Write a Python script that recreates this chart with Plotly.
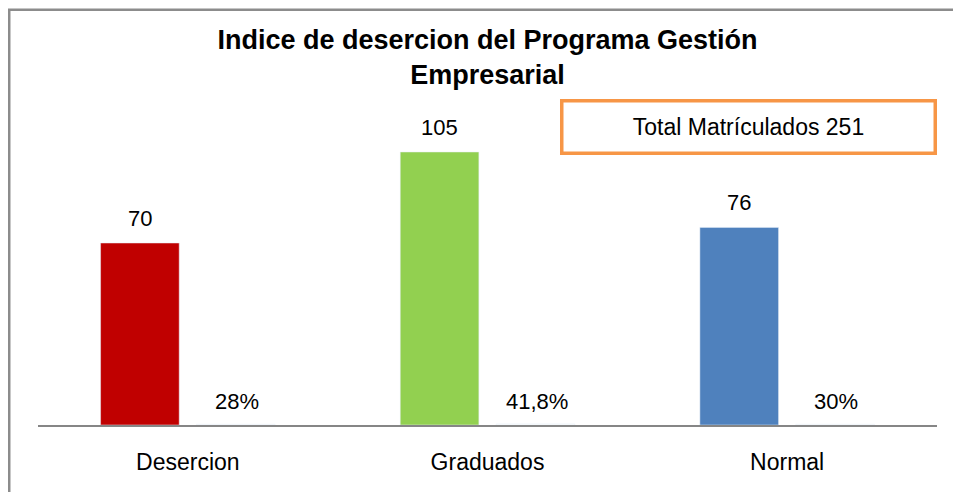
import plotly.graph_objects as go

categorias = ["Desercion", "Graduados", "Normal"]
cantidades = [70, 105, 76]
porcentajes = [28, 41.8, 30]
colores = ["#C00000", "#92D050", "#4F81BD"]
total = 251

pct_texto = [("%g" % p).replace(".", ",") + "%" for p in porcentajes]

fig = go.Figure()
fig.add_trace(go.Bar(
    x=categorias,
    y=cantidades,
    marker_color=colores,
    name="Cantidad",
    hovertemplate="%{x}: %{y}<extra></extra>",
))
# serie de porcentajes (altura casi nula, como en Excel)
fig.add_trace(go.Bar(
    x=categorias,
    y=[p / 100 for p in porcentajes],
    marker_color="rgba(0,0,0,0)",
    name="Porcentaje",
    customdata=pct_texto,
    hovertemplate="%{x}: %{customdata}<extra></extra>",
))

# etiquetas de datos
for cat, val, pt, p in zip(categorias, cantidades, pct_texto, porcentajes):
    fig.add_annotation(x=cat, y=val, text=str(val), showarrow=False,
                       xshift=-48, yshift=10, yanchor="bottom",
                       font=dict(size=22, color="black"))
    fig.add_annotation(x=cat, y=p / 100, text=pt, showarrow=False,
                       xshift=49, yshift=8, yanchor="bottom",
                       font=dict(size=22, color="black"))

fig.add_annotation(
    xref="paper", yref="paper", x=0.79, y=0.955,
    xanchor="center", yanchor="middle",
    text="Total Matrículados " + str(total), showarrow=False,
    width=366, height=45, borderpad=2,
    bordercolor="#F79646", borderwidth=3.5, bgcolor="white",
    font=dict(size=23, color="black"),
)

# marco exterior
fig.add_shape(type="rect", xref="paper", yref="paper",
              x0=-0.032, x1=1.2, y0=-0.4, y1=1.331,
              line=dict(color="#8c8c8c", width=2.5), layer="below")

fig.update_layout(
    width=953, height=484,
    margin=dict(l=30, r=24, t=105, b=67),
    barmode="group",
    bargap=0.36,
    bargroupgap=0.18,
    showlegend=False,
    paper_bgcolor="white",
    plot_bgcolor="white",
    font=dict(family="Liberation Sans, Arial, sans-serif", color="black"),
    title=dict(
        text="<b>Indice de desercion del Programa Gestión<br>Empresarial</b>",
        x=0.5, xref="paper", y=0.915, yanchor="top",
        font=dict(size=27, color="black"),
    ),
)
fig.update_xaxes(showline=True, linecolor="#868686", linewidth=1.5,
                 ticks="", tickfont=dict(size=23, color="black"),
                 ticklabelstandoff=16, showgrid=False)
fig.update_yaxes(visible=False, range=[0, 120], showgrid=False)

fig.write_html("out.html")
